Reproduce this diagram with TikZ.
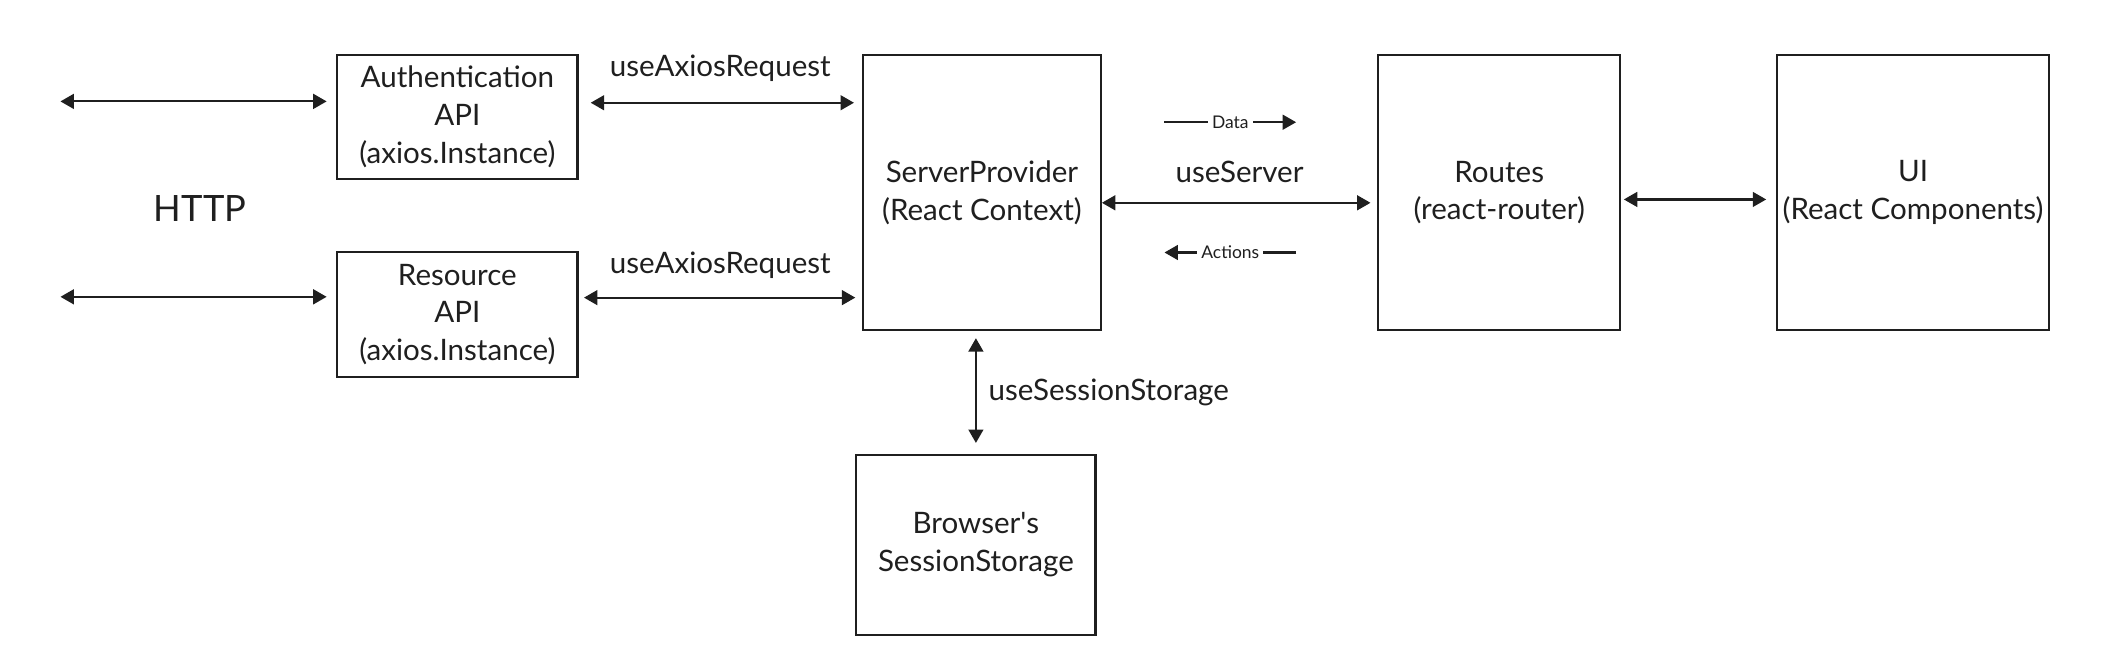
\documentclass[tikz,border=0pt]{standalone}
\usepackage{fontspec}
\setmainfont{Lato}
\usetikzlibrary{arrows.meta, positioning}

\begin{document}
\begin{tikzpicture}
	[<->,>={Triangle[length=5pt,width=5.5pt]}, x=0.5pt, y=-0.5pt, line width=0.8pt, draw=black!88, text=black!88,
	block/.style={draw, align=center, inner sep=0pt, font=\fontsize{11}{14}\selectfont},
	label text/.style={font=\fontsize{11}{14}\selectfont},
	small text/.style={font=\fontsize{6.5}{8}\selectfont, fill=white, inner sep=1.5pt}]
	\useasboundingbox (0,0) rectangle (1568,496);
	%boxes
	\node (auth) [block, minimum width=89.5pt, minimum height=46pt] at (340.5,87) {Authentication\\API\\(axios.Instance)};
	\node (res) [block, minimum width=89.5pt, minimum height=46.5pt, below = 26.5pt of auth] {Resource\\API\\(axios.Instance)};
	\node (server) [block, minimum width=88.5pt, minimum height=102.5pt, right = 105.5pt of auth.north east, anchor=north west] {ServerProvider\\(React Context)};
	\node (routes) [block, minimum width=90pt, minimum height=102.5pt, right = 102.5pt of server] {Routes\\(react-router)};
	\node (ui) [block, minimum width=101.5pt, minimum height=102.5pt, right = 57.5pt of routes] {UI\\(React Components)};
	\node (browser) [block, minimum width=89pt, minimum height=67pt, below = 45.5pt of server, xshift=-2.25pt] {Browser\textquotesingle s\\SessionStorage};
	\node (http) [font=\fontsize{13.5}{16}\selectfont] at (149,155) {HTTP};
	\coordinate (ha) at (45,75.5);
	\coordinate (hr) at (45,221);
	\coordinate (dl) at (867,91);
	\coordinate (dr) at (965,91);
	\coordinate (al) at (867,188);
	\coordinate (ar) at (965,188);
	\path
	(ha) edge [shorten >=3.5pt] (ha -| auth.west)
	(hr) edge [shorten >=3.5pt] (hr -| res.west)
	([yshift=5.25pt]auth.east) edge [shorten <=4.5pt, shorten >=3pt] node [label text, yshift=13pt] {useAxiosRequest} ([yshift=5.25pt]auth.east -| server.west)
	([yshift=6.25pt]res.east) edge [shorten <=2pt, shorten >=2.5pt] node [label text, yshift=12pt] {useAxiosRequest} ([yshift=6.25pt]res.east -| server.west)
	([yshift=-3.75pt]server.east) edge [shorten >=2.5pt] node [label text, yshift=11.5pt] {useServer} ([yshift=-3.75pt]server.east -| routes.west)
	([yshift=-2.5pt]routes.east) edge [shorten <=1pt, shorten >=3.5pt] ([yshift=-2.5pt]routes.east -| ui.west)
	(browser.north |- server.south) edge [shorten <=2.5pt, shorten >=4pt] node [label text, anchor=west, xshift=1pt] {useSessionStorage} (browser.north)
	(dl) edge [->] node [small text] {Data} (dr)
	(ar) edge [->] node [small text] {Actions} (al);
\end{tikzpicture}
\end{document}
